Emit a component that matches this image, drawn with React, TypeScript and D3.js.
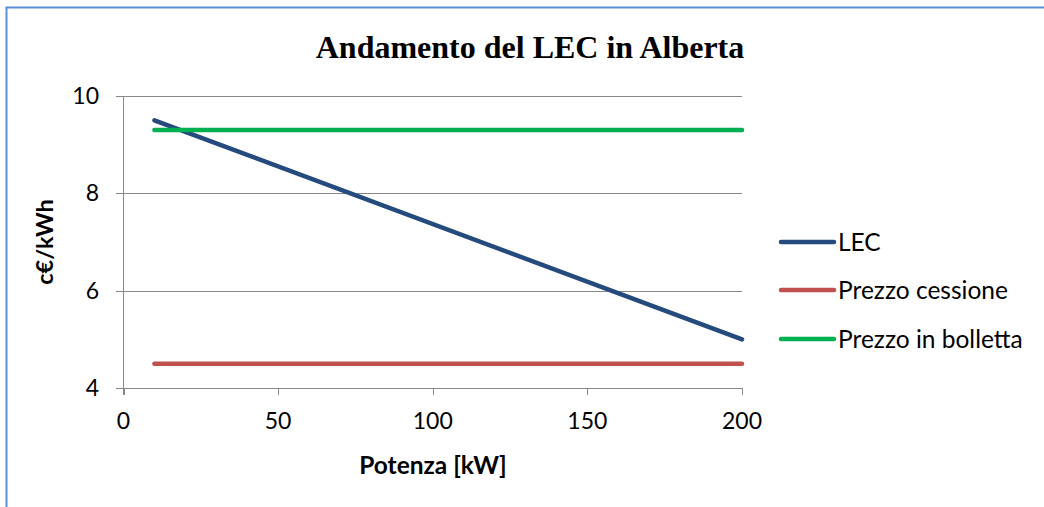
import React from "react";
import * as d3 from "d3";

const potenza = [10, 200];
const lec = [9.5, 5.0];
const prezzoCessione = [4.5, 4.5];
const prezzoBolletta = [9.3, 9.3];
const seriesNames = ["LEC", "Prezzo cessione", "Prezzo in bolletta"];
const seriesColors = ["#254A7E", "#C0504D", "#00B050"];
const xTicks = [0, 50, 100, 150, 200];
const yTicks = [4, 6, 8, 10];

export default function App() {
  const W = 1044, H = 507;
  const x = d3.scaleLinear().domain([0, 200]).range([123.5, 742]);
  const y = d3.scaleLinear().domain([4, 10]).range([388, 96]);
  const line = d3
    .line<[number, number]>()
    .x((d) => x(d[0]))
    .y((d) => y(d[1]));
  const series = [lec, prezzoCessione, prezzoBolletta].map((vals) =>
    potenza.map((p, i) => [p, vals[i]] as [number, number])
  );
  const font = "Lato, 'Open Sans', sans-serif";
  const legendY = [242, 290, 339];
  return (
    <svg
      width={W}
      height={H}
      style={{ position: "absolute", left: 0, top: 0, background: "#fff" }}
    >
      <rect x={0} y={0} width={W} height={H} fill="#fff" />
      <rect x={6.5} y={7.5} width={W + 20} height={H + 20} fill="none" stroke="#5B8ED8" strokeWidth={2} />
      <text
        x={530}
        y={58}
        textAnchor="middle"
        fontFamily="'Liberation Serif', 'Times New Roman', serif"
        fontWeight="bold"
        fontSize={32}
      >
        Andamento del LEC in Alberta
      </text>
      {yTicks.map((t) => (
        <g key={"y" + t}>
          <line x1={116} x2={742} y1={Math.round(y(t)) + 0.5} y2={Math.round(y(t)) + 0.5} stroke="#888" strokeWidth={1} />
          <text x={99} y={y(t)} dy="0.35em" textAnchor="end" fontFamily={font} fontSize={23}>
            {t}
          </text>
        </g>
      ))}
      <line x1={123.5} x2={123.5} y1={96} y2={395} stroke="#888" strokeWidth={1} />
      {xTicks.map((t) => (
        <g key={"x" + t}>
          <line x1={Math.round(x(t)) + 0.5} x2={Math.round(x(t)) + 0.5} y1={388} y2={395} stroke="#888" strokeWidth={1} />
          <text x={x(t)} y={421} dy="0.35em" textAnchor="middle" fontFamily={font} fontSize={23}>
            {t}
          </text>
        </g>
      ))}
      <text x={433} y={465} dy="0.35em" textAnchor="middle" fontFamily={font} fontWeight="bold" fontSize={24.5}>
        Potenza [kW]
      </text>
      <text
        transform={`translate(45,242) rotate(-90)`}
        dy="0.35em"
        textAnchor="middle"
        fontFamily={font}
        fontWeight="bold"
        fontSize={23.5}
      >
        c€/kWh
      </text>
      {series.map((s, i) => (
        <path
          key={"s" + i}
          d={line(s) || ""}
          fill="none"
          stroke={seriesColors[i]}
          strokeWidth={4.5}
          strokeLinecap="round"
        />
      ))}
      {seriesNames.map((n, i) => (
        <g key={"l" + i}>
          <line x1={781} x2={834} y1={legendY[i]} y2={legendY[i]} stroke={seriesColors[i]} strokeWidth={4.5} strokeLinecap="round" />
          <text x={838} y={legendY[i]} dy="0.35em" fontFamily={font} fontSize={24.5}>
            {n}
          </text>
        </g>
      ))}
    </svg>
  );
}
